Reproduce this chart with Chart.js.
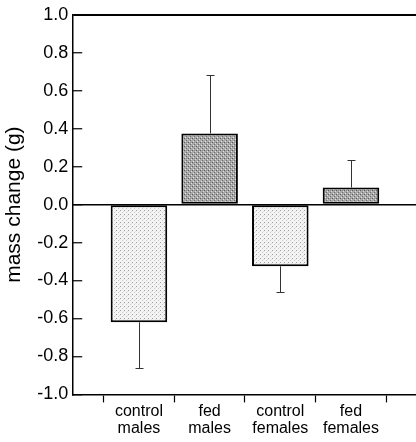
<!DOCTYPE html>
<html>
<head>
<meta charset="utf-8">
<script src="https://cdn.jsdelivr.net/npm/chart.js@4/dist/chart.umd.min.js"></script>
<style>
  html, body { margin: 0; padding: 0; background: #fff; overflow: hidden; }
  #wrap { width: 416px; height: 442px; overflow: hidden; }
  #massChart { display: block; margin-top: -10px; }
</style>
</head>
<body>
<div id="wrap"><canvas id="massChart" width="416" height="452"></canvas></div>
<script>
// data
const groups = ['control males', 'fed males', 'control females', 'fed females'];
const massChange = [-0.62, 0.375, -0.325, 0.09];
const massError = [0.24, 0.31, 0.135, 0.145];
const yTicks = [-1.0, -0.8, -0.6, -0.4, -0.2, 0.0, 0.2, 0.4, 0.6, 0.8, 1.0];

const FONT = "'Liberation Sans', Arial, Helvetica, sans-serif";

// stippled fills like the printed figure
function makePattern(bg, dots) {
    const c = document.createElement('canvas');
    c.width = 4; c.height = 4;
    const g = c.getContext('2d');
    g.fillStyle = bg;
    g.fillRect(0, 0, 4, 4);
    dots.forEach(function (d) {
        g.fillStyle = d[2];
        g.fillRect(d[0], d[1], 1, 1);
    });
    return g.createPattern(c, 'repeat');
}
const ctx = document.getElementById('massChart').getContext('2d');
const lightFill = makePattern('#f4f4f4', [[0, 0, '#9a9a9a'], [2, 2, '#c8c8c8'], [3, 1, '#e0e0e0']]);
const darkFill = makePattern('#a8a8a8', [[0, 0, '#5a5a5a'], [2, 2, '#6e6e6e'], [1, 3, '#e8e8e8'], [3, 1, '#dcdcdc'], [2, 0, '#8a8a8a']]);

// one-sided error bars with a small cap
const errorBars = {
    id: 'errorBars',
    afterDatasetsDraw: function (chart) {
        const meta = chart.getDatasetMeta(0);
        const yScale = chart.scales.y;
        const c = chart.ctx;
        c.save();
        c.strokeStyle = '#333';
        c.lineWidth = 1;
        meta.data.forEach(function (bar, i) {
            const v = massChange[i];
            const end = v + Math.sign(v) * massError[i];
            const px = Math.round(bar.x) + 0.5;
            const py = Math.round(yScale.getPixelForValue(end)) + 0.5;
            c.beginPath();
            c.moveTo(px, bar.y);
            c.lineTo(px, py);
            c.moveTo(px - 4, py);
            c.lineTo(px + 4, py);
            c.stroke();
        });
        c.restore();
    }
};

const massChart = new Chart(ctx, {
    type: 'bar',
    data: {
        datasets: [{
            data: massChange.map(function (v, i) { return { x: i + 1, y: v }; }),
            backgroundColor: groups.map(function (g) { return g.indexOf('fed') === 0 ? darkFill : lightFill; }),
            borderColor: '#000',
            borderWidth: 2,
            borderSkipped: false,
            categoryPercentage: 0.8,
            barPercentage: 1.0
        }]
    },
    options: {
        responsive: false,
        animation: false,
        layout: { padding: { top: 0, left: 0, right: 0, bottom: 4 } },
        plugins: {
            legend: { display: false },
            tooltip: { enabled: false }
        },
        scales: {
            x: {
                type: 'linear',
                offset: false,
                min: 0.07,
                max: 4.92,
                afterBuildTicks: function (axis) {
                    axis.ticks = groups.map(function (g, i) { return { value: i + 1 }; });
                },
                ticks: {
                    autoSkip: false,
                    maxRotation: 0,
                    padding: 1,
                    color: '#000',
                    font: { family: FONT, size: 16, lineHeight: 1.05 },
                    callback: function (value) {
                        const name = groups[Math.round(value) - 1];
                        return name ? name.split(' ') : '';
                    }
                },
                grid: {
                    offset: true,
                    drawOnChartArea: false,
                    tickLength: 8,
                    tickColor: '#000',
                    tickWidth: 1.2
                },
                border: { color: '#000', width: 1.5 }
            },
            y: {
                min: -1,
                max: 1,
                afterBuildTicks: function (axis) {
                    axis.ticks = yTicks.map(function (v) { return { value: v }; });
                },
                ticks: {
                    padding: 14,
                    color: '#000',
                    font: { family: FONT, size: 18 },
                    callback: function (value) {
                        return (Math.abs(value) < 1e-9 ? 0 : value).toFixed(1);
                    }
                },
                grid: {
                    tickLength: -9,
                    tickColor: '#000',
                    tickWidth: 1.2,
                    lineWidth: function (c) { return Math.abs(c.tick.value - 1) < 1e-9 ? 2 : 1.5; },
                    color: function (c) {
                        const v = c.tick ? c.tick.value : null;
                        return (v !== null && (Math.abs(v) < 1e-9 || Math.abs(v - 1) < 1e-9)) ? '#000' : 'rgba(0,0,0,0)';
                    }
                },
                border: { color: '#000', width: 1.5 },
                title: {
                    display: true,
                    text: 'mass change (g)',
                    color: '#000',
                    padding: { top: 2, bottom: -4 },
                    font: { family: FONT, size: 21 }
                }
            }
        }
    },
    plugins: [errorBars]
});
</script>
</body>
</html>
